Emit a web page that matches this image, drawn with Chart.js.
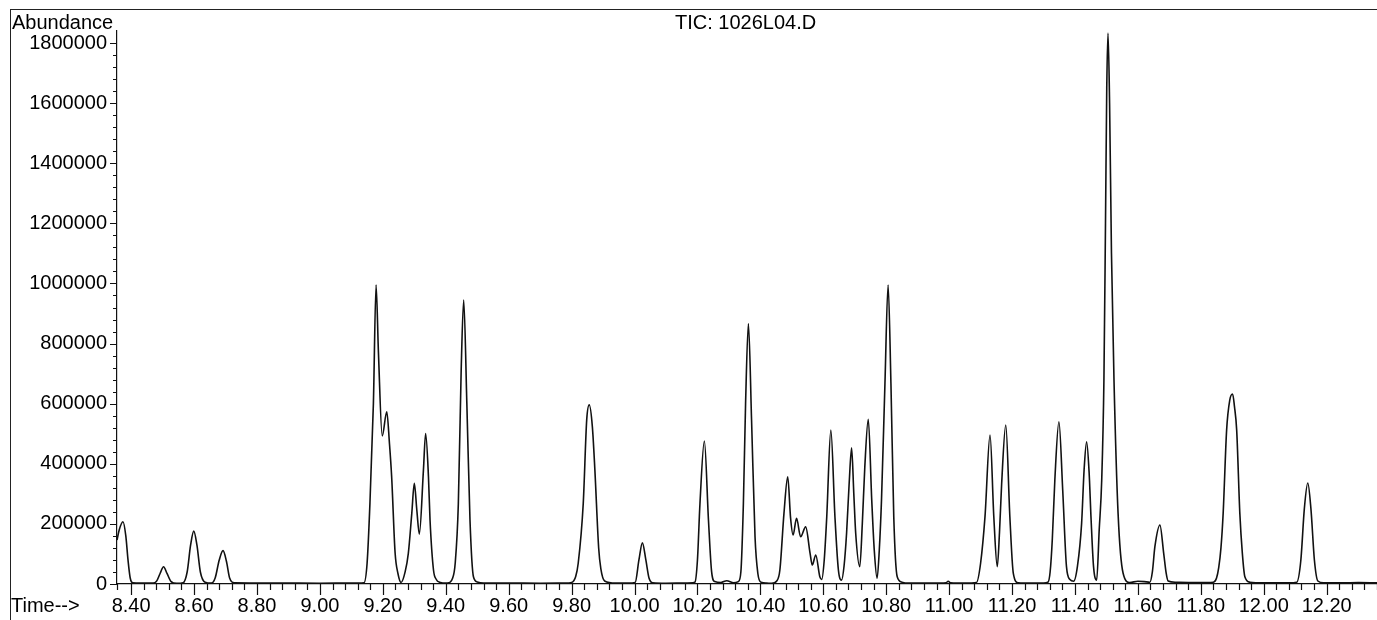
<!DOCTYPE html>
<html>
<head>
<meta charset="utf-8">
<script src="https://cdn.jsdelivr.net/npm/chart.js@4.4.1/dist/chart.umd.min.js"></script>
<style>
  html, body { margin: 0; padding: 0; background: #fff; }
  #wrap { position: relative; width: 1377px; height: 620px; overflow: hidden; font-family: "Liberation Sans", Arial, sans-serif; }
  #frame { position: absolute; left: 10px; top: 9px; right: 0; bottom: 0; border-left: 1px solid #222; border-top: 1px solid #222; }
  canvas { position: absolute; left: 0; top: 0; }
  .lbl { position: absolute; font-size: 20px; line-height: 20px; color: #000; white-space: nowrap; }
</style>
</head>
<body>
<div id="wrap">
  <div id="frame"></div>
  <canvas id="tic" width="1377" height="620"></canvas>
  <div class="lbl" style="left:12px; top:12px;">Abundance</div>
  <div class="lbl" style="left:675px; top:12px;">TIC: 1026L04.D</div>
  <div class="lbl" style="left:11px; top:595px;">Time--&gt;</div>
</div>
<script>
// retention time (min)
const retentionTime = [
  8.355, 8.362, 8.374, 8.383, 8.390, 8.397, 8.405, 8.430, 8.470,
  8.480, 8.492, 8.503, 8.514, 8.527, 8.545,
  8.565, 8.578, 8.589, 8.599, 8.609, 8.620, 8.635, 8.655,
  8.667, 8.680, 8.692, 8.703, 8.713, 8.728,
  8.800, 8.900, 9.000, 9.100, 9.140,
  9.150, 9.159, 9.170, 9.1785, 9.186, 9.198, 9.2125, 9.221, 9.228, 9.239, 9.248, 9.258,
  9.271, 9.281, 9.292, 9.300, 9.308, 9.316, 9.329, 9.336, 9.345, 9.350, 9.361, 9.370, 9.380,
  9.405, 9.422, 9.430, 9.440, 9.449, 9.457, 9.467, 9.477, 9.488, 9.500, 9.520,
  9.600, 9.700, 9.780, 9.800,
  9.813, 9.821, 9.837, 9.848, 9.856, 9.866, 9.874, 9.886, 9.893, 9.905, 9.940, 9.980,
  10.002, 10.014, 10.025, 10.036, 10.046, 10.058,
  10.100, 10.150, 10.185,
  10.192, 10.200, 10.208, 10.222, 10.235, 10.245, 10.255,
  10.275, 10.293, 10.315,
  10.330, 10.338, 10.346, 10.353, 10.362, 10.372, 10.383, 10.392, 10.402, 10.420, 10.436,
  10.452, 10.462, 10.475, 10.487, 10.496, 10.504, 10.515, 10.528, 10.544, 10.558, 10.565, 10.576, 10.589, 10.595,
  10.603, 10.611, 10.624, 10.637, 10.648, 10.658,
  10.666, 10.674, 10.682, 10.690, 10.697, 10.703, 10.716,
  10.724, 10.732, 10.743, 10.754, 10.762, 10.771,
  10.778, 10.785, 10.796, 10.806, 10.815, 10.824, 10.835, 10.850, 10.865,
  10.950, 10.990, 10.997, 11.005, 11.050, 11.087,
  11.100, 11.114, 11.130, 11.142, 11.153,
  11.160, 11.167, 11.180, 11.193, 11.204, 11.220,
  11.260, 11.300, 11.314,
  11.321, 11.328, 11.336, 11.349, 11.361, 11.373, 11.384, 11.396,
  11.408, 11.421, 11.429, 11.437, 11.445, 11.451, 11.459, 11.469,
  11.477, 11.485, 11.492, 11.497, 11.501, 11.505, 11.510, 11.516, 11.524, 11.537, 11.553, 11.574,
  11.600, 11.620, 11.638,
  11.646, 11.654, 11.670, 11.682, 11.690, 11.696,
  11.720, 11.780, 11.820, 11.840,
  11.850, 11.857, 11.864, 11.871, 11.882, 11.892, 11.901, 11.907, 11.914, 11.924, 11.932, 11.940, 11.956,
  12.000, 12.080, 12.105,
  12.118, 12.129, 12.140, 12.150, 12.161, 12.172,
  12.190, 12.250, 12.300, 12.360
];

const abundance = [
  146000, 180000, 207000, 160000, 80000, 20000, 4000, 3000, 3000,
  8000, 35000, 57500, 35000, 8000, 2000,
  4000, 40000, 130000, 176000, 130000, 40000, 6000, 3000,
  20000, 80000, 111000, 75000, 20000, 4000,
  3500, 3000, 2500, 3000, 4000,
  70000, 269000, 601000, 995000, 770000, 493000, 573000, 468000, 357000, 103000, 35000, 5000,
  41000, 102000, 235000, 335000, 246000, 166000, 379000, 501000, 357000, 213000, 46600, 15000, 6000,
  3000, 20000, 69000, 268000, 712000, 945000, 601000, 213000, 24000, 7000, 3500,
  3000, 2500, 3000, 5000,
  25000, 69000, 268000, 546000, 596000, 523000, 379000, 120000, 50000, 10000, 3000, 3000,
  5000, 80000, 137000, 80000, 20000, 4000,
  2500, 3000, 4000,
  6000, 80000, 268000, 476000, 213000, 41000, 8000,
  5000, 11000, 4000,
  8000, 40000, 268000, 601000, 867000, 546000, 157000, 35000, 6000, 3000, 2000,
  10000, 46600, 235000, 357000, 220000, 163000, 218500, 157000, 190000, 102000, 63000, 96500, 24000, 15000,
  80000, 224000, 512000, 224000, 46600, 13000,
  60000, 169000, 330000, 453000, 300000, 169000, 57600,
  200000, 390000, 548000, 279000, 113000, 19000,
  113000, 279000, 668000, 995000, 668000, 224000, 24000, 6000, 3000,
  3000, 4000, 9000, 4000, 3000, 5000,
  69000, 224000, 496000, 224000, 57600,
  170000, 335000, 529000, 224000, 35600, 4000,
  3000, 3500, 6000,
  40000, 150000, 346000, 540000, 313000, 57600, 15000, 9000,
  60000, 200000, 380000, 473000, 370000, 220000, 57600, 13000,
  180000, 346000, 679000, 1200000, 1650000, 1833000, 1600000, 1100000, 679000, 235000, 35600, 5000,
  9000, 8000, 6000,
  40000, 124000, 196000, 102000, 35000, 10000,
  6000, 5000, 5000, 6000,
  20000, 55000, 120000, 235000, 512000, 612000, 632000, 590000, 512000, 235000, 102000, 24000, 6000,
  4000, 4000, 6000,
  80000, 250000, 336000, 250000, 80000, 10000,
  4000, 4000, 4500, 4000
];

const xTickLabels = ['8.40', '8.60', '8.80', '9.00', '9.20', '9.40', '9.60', '9.80', '10.00',
  '10.20', '10.40', '10.60', '10.80', '11.00', '11.20', '11.40', '11.60', '11.80', '12.00', '12.20'];
const yTickLabels = ['0', '200000', '400000', '600000', '800000', '1000000', '1200000',
  '1400000', '1600000', '1800000'];

const timeMin = 8.355;
const timeMax = 12.36;
const abundanceMax = 1840000;

function isMajorX(v) {
  return xTickLabels.includes(v.toFixed(2));
}
function isMajorY(v) {
  return yTickLabels.includes(String(Math.round(v)));
}

// hand-drawn tick marks: long at labelled ticks, short in between
const tickMarks = {
  id: 'tickMarks',
  afterDraw(chart) {
    const ctx = chart.ctx;
    const xs = chart.scales.x;
    const ys = chart.scales.y;
    ctx.save();
    ctx.strokeStyle = '#111';
    ctx.lineWidth = 1.2;
    ctx.beginPath();
    xs.ticks.forEach(t => {
      const px = Math.round(xs.getPixelForValue(t.value)) + 0.5;
      const len = isMajorX(t.value) ? 11 : 6;
      ctx.moveTo(px, xs.top);
      ctx.lineTo(px, xs.top + len);
    });
    ys.ticks.forEach(t => {
      if (t.value > 1800000) return;
      const py = Math.round(ys.getPixelForValue(t.value)) + 0.5;
      const len = isMajorY(t.value) ? 7 : 4;
      ctx.moveTo(ys.right - len, py);
      ctx.lineTo(ys.right, py);
    });
    ctx.stroke();
    ctx.restore();
  }
};

Chart.defaults.font.family = '"Liberation Sans", Arial, sans-serif';
Chart.defaults.font.size = 20;
Chart.defaults.color = '#000';

const points = retentionTime.map((t, i) => ({ x: t, y: abundance[i] }));

// tick marks of the library are kept invisible, they only space the labels
const hiddenTicks = { drawOnChartArea: false, drawTicks: true, tickLength: 10, tickColor: 'rgba(0,0,0,0)' };

new Chart(document.getElementById('tic'), {
  type: 'line',
  data: {
    datasets: [{
      data: points,
      borderColor: '#111',
      borderWidth: 1.6,
      pointRadius: 0,
      fill: false,
      cubicInterpolationMode: 'monotone'
    }]
  },
  options: {
    responsive: false,
    animation: false,
    devicePixelRatio: 1,
    layout: { padding: { top: 31, left: 0, right: 0, bottom: 0 } },
    plugins: { legend: { display: false }, tooltip: { enabled: false } },
    scales: {
      x: {
        type: 'linear',
        min: timeMin,
        max: timeMax,
        afterFit: s => { s.height = 36; },
        grid: hiddenTicks,
        border: { display: true, color: '#111', width: 1.2 },
        ticks: {
          stepSize: 0.04,
          autoSkip: false,
          maxRotation: 0,
          minRotation: 0,
          padding: 0,
          callback: v => isMajorX(v) ? v.toFixed(2) : ''
        }
      },
      y: {
        min: 0,
        max: abundanceMax,
        afterFit: s => { s.width = 117; },
        grid: hiddenTicks,
        border: { display: true, color: '#111', width: 1.2 },
        ticks: {
          stepSize: 40000,
          autoSkip: false,
          padding: 0,
          callback: v => isMajorY(v) ? String(Math.round(v)) : ''
        }
      }
    }
  },
  plugins: [tickMarks]
});
</script>
</body>
</html>
